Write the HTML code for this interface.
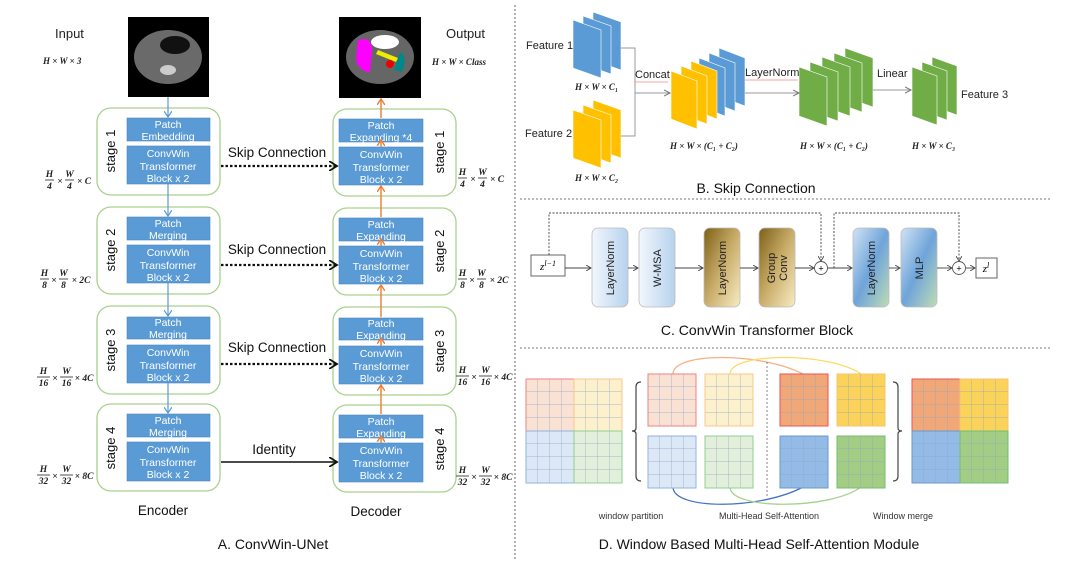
<!DOCTYPE html>
<html><head><meta charset="utf-8"><style>
html,body{margin:0;padding:0;background:#fff;}
svg{display:block;font-family:"Liberation Sans",Arial,sans-serif;}
.m{font-family:"Liberation Serif",serif;font-weight:bold;font-style:italic;font-size:9px;fill:#222;}
.f{font-family:"Liberation Serif",serif;font-weight:bold;font-style:italic;font-size:9.5px;fill:#222;text-anchor:middle;}
.bt{fill:#fff;font-size:10.5px;text-anchor:middle;}
</style></head><body>
<svg width="1080" height="575" viewBox="0 0 1080 575" xmlns="http://www.w3.org/2000/svg">
<defs>
<pattern id="g" width="12" height="13" patternUnits="userSpaceOnUse"><path d="M12 0V13M0 13H12" stroke="#8aa6c6" stroke-width="0.7" fill="none"/></pattern>
<linearGradient id="lb" x1="0" y1="0" x2="1" y2="0"><stop offset="0" stop-color="#f2f7fc"/><stop offset="1" stop-color="#b7d2ee"/></linearGradient>
<linearGradient id="gd" x1="0" y1="0" x2="1" y2="1"><stop offset="0" stop-color="#7d6118"/><stop offset="0.5" stop-color="#c9ad6a"/><stop offset="1" stop-color="#f8ecc4"/></linearGradient>
<linearGradient id="bg" x1="0" y1="0" x2="1" y2="1"><stop offset="0" stop-color="#d2e3f4"/><stop offset="0.5" stop-color="#6fa4da"/><stop offset="1" stop-color="#bfdcb4"/></linearGradient>
<marker id="ab" markerWidth="8" markerHeight="8" refX="6" refY="4" orient="auto" markerUnits="userSpaceOnUse"><path d="M0 0L6 4L0 8" fill="none" stroke="#5b9bd5" stroke-width="1.2"/></marker>
<marker id="ao" markerWidth="8" markerHeight="8" refX="6" refY="4" orient="auto" markerUnits="userSpaceOnUse"><path d="M0 0L6 4L0 8" fill="none" stroke="#ed7d31" stroke-width="1.4"/></marker>
<marker id="ak" markerWidth="10" markerHeight="10" refX="8" refY="5" orient="auto" markerUnits="userSpaceOnUse"><path d="M0 0L8 5L0 10" fill="none" stroke="#111" stroke-width="1.8"/></marker>
<marker id="ag" markerWidth="8" markerHeight="8" refX="6" refY="4" orient="auto" markerUnits="userSpaceOnUse"><path d="M0 1L6 4L0 7" fill="none" stroke="#777" stroke-width="1"/></marker>
<marker id="as" markerWidth="6" markerHeight="6" refX="5" refY="3" orient="auto" markerUnits="userSpaceOnUse"><path d="M0 0L5 3L0 6" fill="none" stroke="#444" stroke-width="0.9"/></marker>
</defs>

<!-- A: ConvWin-UNet -->
<text x="55" y="38" font-size="13" fill="#222">Input</text>
<text x="43" y="64" class="m">H × W × 3</text>
<text x="446" y="38" font-size="13" fill="#222">Output</text>
<text x="432" y="65" class="m">H × W × Class</text>
<rect x="128" y="17" width="81" height="80" fill="#000"/>
<ellipse cx="168" cy="57" rx="34" ry="27" fill="#6a6a6a"/>
<ellipse cx="175" cy="45" rx="15" ry="9" fill="#111"/>
<ellipse cx="168" cy="70" rx="8" ry="5" fill="#ccc"/>
<rect x="339" y="17" width="82" height="81" fill="#000"/>
<ellipse cx="380" cy="57" rx="34" ry="27" fill="#666"/>
<path d="M358 40 Q372 36 372 50 L370 72 Q360 72 356 60Z" fill="#f0f"/>
<ellipse cx="385" cy="42" rx="14" ry="7" fill="#fff"/>
<path d="M378 50 L398 58 L396 62 L376 54Z" fill="#ee0"/>
<path d="M400 52 Q408 56 402 72 L394 70Z" fill="#088"/>
<circle cx="390" cy="64" r="4" fill="#e00"/>

<g fill="none" stroke="#a9d18e" stroke-width="1.3">
<rect x="97" y="108" width="123" height="87" rx="14"/>
<rect x="97" y="207" width="123" height="87" rx="14"/>
<rect x="97" y="306" width="123" height="88" rx="14"/>
<rect x="97" y="404" width="123" height="87" rx="14"/>
<rect x="333" y="109" width="123" height="87" rx="14"/>
<rect x="333" y="208" width="123" height="87" rx="14"/>
<rect x="333" y="307" width="123" height="88" rx="14"/>
<rect x="333" y="405" width="123" height="87" rx="14"/>
</g>
<g fill="#5b9bd5" stroke="#4a86c0" stroke-width="0.6">
<rect x="127" y="118" width="83" height="23"/><rect x="127" y="146" width="83" height="38"/>
<rect x="127" y="217" width="83" height="23"/><rect x="127" y="245" width="83" height="38"/>
<rect x="127" y="317" width="83" height="22"/><rect x="127" y="345" width="83" height="38"/>
<rect x="127" y="414" width="83" height="23"/><rect x="127" y="442" width="83" height="39"/>
<rect x="339" y="119" width="84" height="23"/><rect x="339" y="147" width="84" height="38"/>
<rect x="339" y="218" width="84" height="23"/><rect x="339" y="246" width="84" height="38"/>
<rect x="339" y="318" width="84" height="22"/><rect x="339" y="346" width="84" height="38"/>
<rect x="339" y="415" width="84" height="23"/><rect x="339" y="443" width="84" height="39"/>
</g>
<g class="bt">
<text x="168" y="128">Patch</text><text x="168" y="140">Embedding</text>
<text x="168" y="157">ConvWin</text><text x="168" y="170">Transformer</text><text x="168" y="182">Block x 2</text>
<text x="168" y="227">Patch</text><text x="168" y="239">Merging</text>
<text x="168" y="256">ConvWin</text><text x="168" y="269">Transformer</text><text x="168" y="281">Block x 2</text>
<text x="168" y="326">Patch</text><text x="168" y="338">Merging</text>
<text x="168" y="356">ConvWin</text><text x="168" y="369">Transformer</text><text x="168" y="381">Block x 2</text>
<text x="168" y="424">Patch</text><text x="168" y="436">Merging</text>
<text x="168" y="453">ConvWin</text><text x="168" y="466">Transformer</text><text x="168" y="478">Block x 2</text>
<text x="381" y="129">Patch</text><text x="381" y="141">Expanding *4</text>
<text x="381" y="158">ConvWin</text><text x="381" y="171">Transformer</text><text x="381" y="183">Block x 2</text>
<text x="381" y="228">Patch</text><text x="381" y="240">Expanding</text>
<text x="381" y="257">ConvWin</text><text x="381" y="270">Transformer</text><text x="381" y="282">Block x 2</text>
<text x="381" y="327">Patch</text><text x="381" y="339">Expanding</text>
<text x="381" y="357">ConvWin</text><text x="381" y="370">Transformer</text><text x="381" y="382">Block x 2</text>
<text x="381" y="425">Patch</text><text x="381" y="437">Expanding</text>
<text x="381" y="454">ConvWin</text><text x="381" y="467">Transformer</text><text x="381" y="479">Block x 2</text>
</g>
<g font-size="13" fill="#111" text-anchor="middle">
<text transform="translate(115 151) rotate(-90)">stage 1</text>
<text transform="translate(115 250) rotate(-90)">stage 2</text>
<text transform="translate(115 350) rotate(-90)">stage 3</text>
<text transform="translate(115 448) rotate(-90)">stage 4</text>
<text transform="translate(444 152) rotate(-90)">stage 1</text>
<text transform="translate(444 251) rotate(-90)">stage 2</text>
<text transform="translate(444 351) rotate(-90)">stage 3</text>
<text transform="translate(444 449) rotate(-90)">stage 4</text>
</g>
<g stroke="#5b9bd5" stroke-width="1.2" marker-end="url(#ab)">
<line x1="168" y1="97" x2="168" y2="117"/><line x1="168" y1="184" x2="168" y2="216"/>
<line x1="168" y1="283" x2="168" y2="316"/><line x1="168" y1="383" x2="168" y2="413"/>
</g>
<g stroke="#ed7d31" stroke-width="1.4" marker-end="url(#ao)">
<line x1="381" y1="118" x2="381" y2="99"/><line x1="381" y1="217" x2="381" y2="186"/>
<line x1="381" y1="317" x2="381" y2="285"/><line x1="381" y1="414" x2="381" y2="385"/>
<line x1="381" y1="147" x2="381" y2="140"/><line x1="381" y1="246" x2="381" y2="239"/>
<line x1="381" y1="346" x2="381" y2="338"/><line x1="381" y1="443" x2="381" y2="436"/>
</g>
<g stroke="#111" stroke-width="2.2" stroke-dasharray="2.5 2" marker-end="url(#ak)" fill="none">
<line x1="221" y1="166" x2="337" y2="166"/><line x1="221" y1="265" x2="337" y2="265"/><line x1="221" y1="364" x2="337" y2="364"/>
</g>
<line x1="221" y1="462" x2="337" y2="462" stroke="#111" stroke-width="1.5" marker-end="url(#ak)"/>
<g font-size="13.5" fill="#111" text-anchor="middle">
<text x="277" y="157">Skip Connection</text><text x="277" y="254">Skip Connection</text>
<text x="277" y="352">Skip Connection</text><text x="274" y="454">Identity</text>
<text x="163" y="515">Encoder</text><text x="376" y="516">Decoder</text>
<text x="273" y="549" font-size="14">A. ConvWin-UNet</text>
</g>
<!-- fraction dimension labels -->
<g stroke="#222" stroke-width="0.8">
<line x1="45" y1="180" x2="54" y2="180"/><line x1="65" y1="180" x2="74" y2="180"/>
<line x1="458" y1="178" x2="467" y2="178"/><line x1="478" y1="178" x2="487" y2="178"/>
<line x1="40" y1="279" x2="49" y2="279"/><line x1="59" y1="279" x2="68" y2="279"/>
<line x1="458" y1="279" x2="467" y2="279"/><line x1="477" y1="279" x2="486" y2="279"/>
<line x1="37" y1="377" x2="50" y2="377"/><line x1="60" y1="377" x2="73" y2="377"/>
<line x1="456" y1="376" x2="469" y2="376"/><line x1="479" y1="376" x2="492" y2="376"/>
<line x1="37" y1="475" x2="50" y2="475"/><line x1="60" y1="475" x2="73" y2="475"/>
<line x1="456" y1="476" x2="469" y2="476"/><line x1="479" y1="476" x2="492" y2="476"/>
</g>
<g class="f">
<text x="49.5" y="177">H</text><text x="49.5" y="189">4</text><text x="60" y="184">×</text><text x="69.5" y="177">W</text><text x="69.5" y="189">4</text><text x="84" y="184">× C</text>
<text x="462.5" y="175">H</text><text x="462.5" y="187">4</text><text x="473" y="182">×</text><text x="482.5" y="175">W</text><text x="482.5" y="187">4</text><text x="497" y="182">× C</text>
<text x="44.5" y="276">H</text><text x="44.5" y="288">8</text><text x="54" y="283">×</text><text x="63.5" y="276">W</text><text x="63.5" y="288">8</text><text x="81" y="283">× 2C</text>
<text x="462.5" y="276">H</text><text x="462.5" y="288">8</text><text x="472" y="283">×</text><text x="481.5" y="276">W</text><text x="481.5" y="288">8</text><text x="499" y="283">× 2C</text>
<text x="43.5" y="374">H</text><text x="43.5" y="386">16</text><text x="55" y="381">×</text><text x="66.5" y="374">W</text><text x="66.5" y="386">16</text><text x="84" y="381">× 4C</text>
<text x="462.5" y="373">H</text><text x="462.5" y="385">16</text><text x="474" y="380">×</text><text x="485.5" y="373">W</text><text x="485.5" y="385">16</text><text x="503" y="380">× 4C</text>
<text x="43.5" y="472">H</text><text x="43.5" y="484">32</text><text x="55" y="479">×</text><text x="66.5" y="472">W</text><text x="66.5" y="484">32</text><text x="84" y="479">× 8C</text>
<text x="462.5" y="473">H</text><text x="462.5" y="485">32</text><text x="474" y="480">×</text><text x="485.5" y="473">W</text><text x="485.5" y="485">32</text><text x="503" y="480">× 8C</text>
</g>
<line x1="515" y1="5" x2="515" y2="560" stroke="#666" stroke-width="1" stroke-dasharray="2 2"/>

<!-- B -->
<g stroke="#fff" stroke-width="0.6">
<g fill="#5b9bd5"><polygon points="593,12 621,22 621,70 593,60"/><polygon points="583,16 611,26 611,74 583,64"/><polygon points="573,20 601,30 601,78 573,68"/></g>
<g fill="#ffc000"><polygon points="593,100 621,110 621,158 593,148"/><polygon points="583,105 611,115 611,163 583,153"/><polygon points="573,110 601,120 601,168 573,158"/></g>
<g fill="#5b9bd5"><polygon points="719,48 745,58 745,106 719,96"/><polygon points="709,53 735,63 735,111 709,101"/><polygon points="699,58 725,68 725,116 699,106"/></g>
<g fill="#ffc000"><polygon points="691,61 717,71 717,119 691,109"/><polygon points="681,66 707,76 707,124 681,114"/><polygon points="671,71 697,81 697,129 671,119"/></g>
<g fill="#70ad47"><polygon points="845,48 873,58 873,107 845,97"/><polygon points="834,53 862,63 862,112 834,102"/><polygon points="822,57 850,67 850,116 822,106"/><polygon points="810,62 838,72 838,121 810,111"/><polygon points="799,67 827,77 827,126 799,116"/></g>
<g fill="#70ad47"><polygon points="932,57 957,66 957,115 932,106"/><polygon points="922,62 947,71 947,120 922,111"/><polygon points="912,67 937,76 937,125 912,116"/></g>
</g>
<g stroke="#999" stroke-width="1" fill="none">
<polyline points="621,48 635,48 635,136 621,136"/>
<line x1="635" y1="93" x2="670" y2="93" marker-end="url(#ag)"/>
<line x1="745" y1="93" x2="799" y2="93" marker-end="url(#ag)"/>
<line x1="873" y1="90" x2="911" y2="90" marker-end="url(#ag)"/>
</g>
<line x1="634" y1="82" x2="668" y2="82" stroke="#f4a6a6" stroke-width="1"/>
<line x1="745" y1="80" x2="798" y2="80" stroke="#f4a6a6" stroke-width="1"/>
<g font-size="11" fill="#222">
<text x="526" y="49">Feature 1</text><text x="525" y="137">Feature 2</text>
<text x="635" y="78">Concat</text><text x="745" y="76">LayerNorm</text><text x="877" y="77">Linear</text><text x="961" y="98">Feature 3</text>
</g>
<g class="m">
<text x="575" y="90">H × W × C₁</text><text x="575" y="181">H × W × C₂</text>
<text x="670" y="149">H × W × (C₁ + C₂)</text><text x="800" y="149">H × W × (C₁ + C₂)</text><text x="912" y="149">H × W × C₃</text>
</g>
<text x="756" y="193" font-size="14" fill="#111" text-anchor="middle">B. Skip Connection</text>
<line x1="520" y1="199" x2="1050" y2="199" stroke="#777" stroke-dasharray="2 2"/>

<!-- C -->
<rect x="531" y="255" width="34" height="21" fill="#fff" stroke="#666"/>
<text x="548" y="270" font-family="Liberation Serif,serif" font-style="italic" font-size="11" text-anchor="middle">z<tspan font-size="8" dy="-4">l−1</tspan></text>
<rect x="976" y="258" width="21" height="20" fill="#fff" stroke="#666"/>
<text x="986" y="272" font-family="Liberation Serif,serif" font-style="italic" font-size="11" text-anchor="middle">z<tspan font-size="8" dy="-4">l</tspan></text>
<g stroke="#bbb" stroke-width="0.8">
<rect x="592" y="228" width="36" height="79" rx="6" fill="url(#lb)"/>
<rect x="639" y="228" width="36" height="79" rx="6" fill="url(#lb)"/>
<rect x="704" y="228" width="36" height="79" rx="6" fill="url(#gd)"/>
<rect x="759" y="228" width="36" height="79" rx="6" fill="url(#gd)"/>
<rect x="853" y="228" width="36" height="79" rx="6" fill="url(#bg)"/>
<rect x="901" y="228" width="36" height="79" rx="6" fill="url(#bg)"/>
</g>
<g font-size="11" fill="#222" text-anchor="middle">
<text transform="translate(614 268) rotate(-90)">LayerNorm</text>
<text transform="translate(661 268) rotate(-90)">W-MSA</text>
<text transform="translate(726 268) rotate(-90)">LayerNorm</text>
<text transform="translate(775 268) rotate(-90)">Group</text>
<text transform="translate(787 268) rotate(-90)">Conv</text>
<text transform="translate(875 268) rotate(-90)">LayerNorm</text>
<text transform="translate(923 268) rotate(-90)">MLP</text>
</g>
<g stroke="#444" stroke-width="0.9" fill="none" marker-end="url(#as)">
<line x1="565" y1="268" x2="591" y2="268"/><line x1="628" y1="268" x2="638" y2="268"/>
<line x1="675" y1="268" x2="703" y2="268"/><line x1="740" y1="268" x2="758" y2="268"/>
<line x1="795" y1="268" x2="814" y2="268"/><line x1="828" y1="268" x2="852" y2="268"/>
<line x1="889" y1="268" x2="900" y2="268"/><line x1="937" y1="268" x2="952" y2="268"/>
<line x1="966" y1="268" x2="975" y2="268"/>
<polyline points="549,255 549,213 821,213 821,261" stroke-dasharray="2 1.5"/>
<polyline points="834,268 834,213 959,213 959,261" stroke-dasharray="2 1.5"/>
</g>
<g fill="#fff" stroke="#555" stroke-width="0.9"><circle cx="821" cy="268" r="6.5"/><circle cx="959" cy="268" r="6.5"/></g>
<text x="821" y="271.5" font-size="9" text-anchor="middle">+</text><text x="959" y="271.5" font-size="9" text-anchor="middle">+</text>
<text x="757" y="335" font-size="14" fill="#111" text-anchor="middle">C. ConvWin Transformer  Block</text>
<line x1="520" y1="348" x2="1050" y2="348" stroke="#777" stroke-dasharray="2 2"/>

<!-- D -->
<g fill="none" stroke-width="1.3">
<path d="M673 374 C673 352 760 352 803 374" stroke="#f4b183"/>
<path d="M730 374 C730 352 830 352 861 374" stroke="#ffd966"/>
<path d="M673 487 C673 510 760 510 803 487" stroke="#4472c4"/>
<path d="M730 487 C730 510 830 510 861 487" stroke="#a9d18e"/>
</g>
<g transform="translate(526 379)"><rect width="48" height="52" fill="#f9e1d4"/><rect width="48" height="52" fill="url(#g)"/><rect width="48" height="52" fill="none" stroke="#f08080"/></g>
<g transform="translate(574 379)"><rect width="48" height="52" fill="#fdf0cd"/><rect width="48" height="52" fill="url(#g)"/><rect width="48" height="52" fill="none" stroke="#f8c98a"/></g>
<g transform="translate(526 431)"><rect width="48" height="52" fill="#dce8f5"/><rect width="48" height="52" fill="url(#g)"/><rect width="48" height="52" fill="none" stroke="#8fb3e0"/></g>
<g transform="translate(574 431)"><rect width="48" height="52" fill="#e2efda"/><rect width="48" height="52" fill="url(#g)"/><rect width="48" height="52" fill="none" stroke="#8fd08f"/></g>
<g transform="translate(648 374)"><rect width="48" height="52" fill="#f9e1d4"/><rect width="48" height="52" fill="url(#g)"/><rect width="48" height="52" fill="none" stroke="#f08080"/></g>
<g transform="translate(705 374)"><rect width="48" height="52" fill="#fdf0cd"/><rect width="48" height="52" fill="url(#g)"/><rect width="48" height="52" fill="none" stroke="#f8c98a"/></g>
<g transform="translate(648 436)"><rect width="48" height="52" fill="#dce8f5"/><rect width="48" height="52" fill="url(#g)"/><rect width="48" height="52" fill="none" stroke="#8fb3e0"/></g>
<g transform="translate(705 436)"><rect width="48" height="52" fill="#e2efda"/><rect width="48" height="52" fill="url(#g)"/><rect width="48" height="52" fill="none" stroke="#8fd08f"/></g>
<g transform="translate(780 374)"><rect width="48" height="52" fill="#f0a878"/><rect width="48" height="52" fill="url(#g)"/><rect width="48" height="52" fill="none" stroke="#f05050"/></g>
<g transform="translate(837 374)"><rect width="48" height="52" fill="#fcd35a"/><rect width="48" height="52" fill="url(#g)"/><rect width="48" height="52" fill="none" stroke="#f8c070"/></g>
<g transform="translate(780 436)"><rect width="48" height="52" fill="#93bbe5"/><rect width="48" height="52" fill="url(#g)"/><rect width="48" height="52" fill="none" stroke="#6a9ad0"/></g>
<g transform="translate(837 436)"><rect width="48" height="52" fill="#a3cd85"/><rect width="48" height="52" fill="url(#g)"/><rect width="48" height="52" fill="none" stroke="#70c070"/></g>
<g transform="translate(912 379)"><rect width="48" height="52" fill="#f0a878"/><rect width="48" height="52" fill="url(#g)"/><rect width="48" height="52" fill="none" stroke="#f05050"/></g>
<g transform="translate(960 379)"><rect width="48" height="52" fill="#fcd35a"/><rect width="48" height="52" fill="url(#g)"/><rect width="48" height="52" fill="none" stroke="#f8c070"/></g>
<g transform="translate(912 431)"><rect width="48" height="52" fill="#93bbe5"/><rect width="48" height="52" fill="url(#g)"/><rect width="48" height="52" fill="none" stroke="#6a9ad0"/></g>
<g transform="translate(960 431)"><rect width="48" height="52" fill="#a3cd85"/><rect width="48" height="52" fill="url(#g)"/><rect width="48" height="52" fill="none" stroke="#70c070"/></g>
<line x1="767" y1="362" x2="767" y2="498" stroke="#666" stroke-width="0.8" stroke-dasharray="2 2"/>
<g fill="none" stroke="#444" stroke-width="1.2">
<path d="M641 382 Q636 382 636 387 L636 428 Q636 431 632 431 Q636 431 636 434 L636 476 Q636 481 641 481"/>
<path d="M893 382 Q898 382 898 387 L898 428 Q898 431 902 431 Q898 431 898 434 L898 476 Q898 481 893 481"/>
</g>
<g font-size="9" fill="#333" text-anchor="middle">
<text x="631" y="519">window partition</text><text x="769" y="519">Multi-Head Self-Attention</text><text x="903" y="519">Window merge</text>
</g>
<text x="759" y="549" font-size="14" fill="#111" text-anchor="middle">D. Window Based Multi-Head  Self-Attention  Module</text>
</svg>
</body></html>
